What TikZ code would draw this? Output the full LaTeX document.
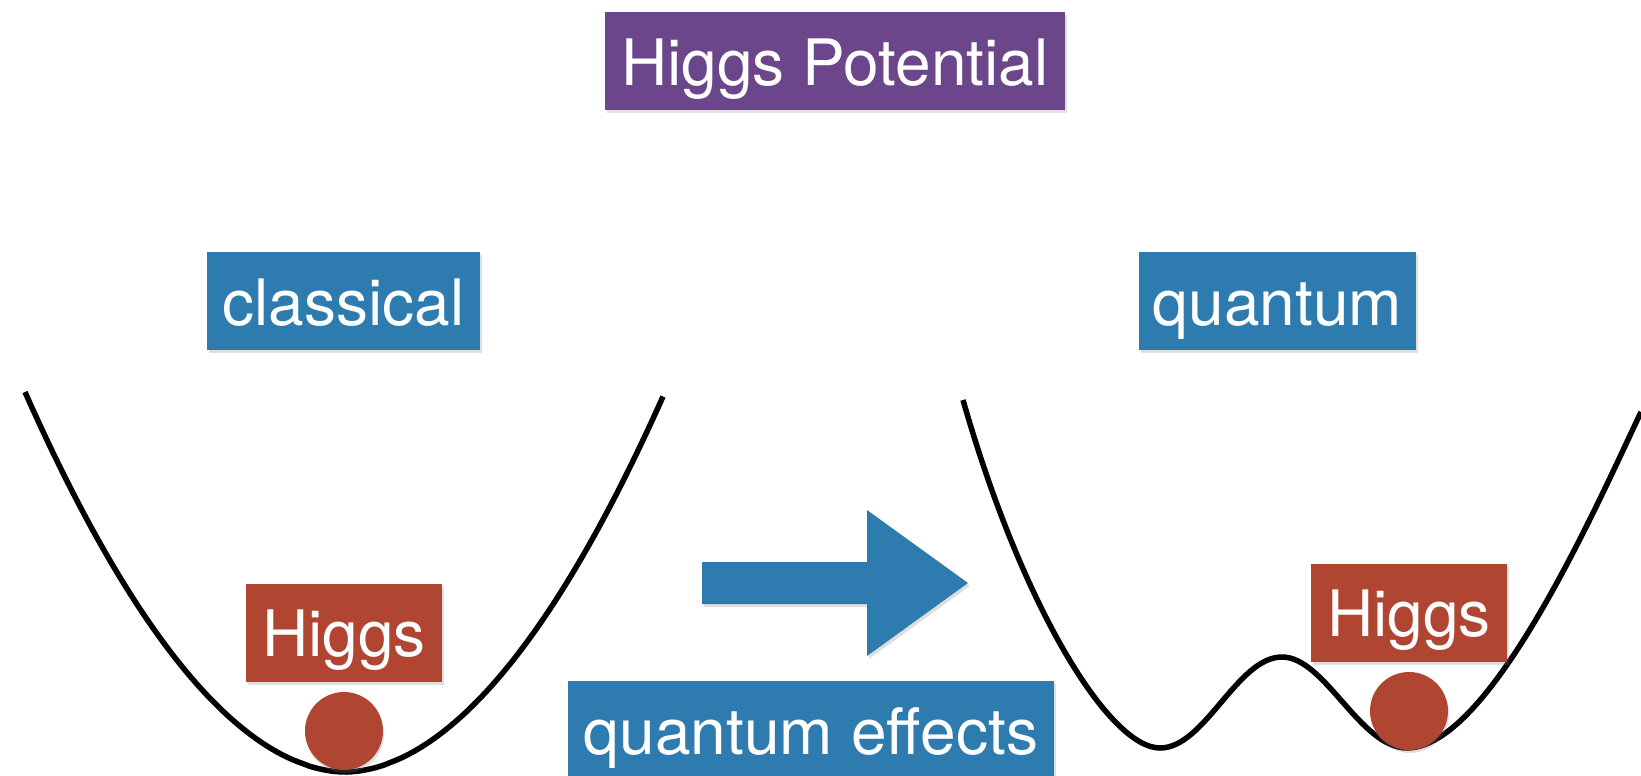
\documentclass[tikz,border=0pt]{standalone}
\usepackage{fontspec}
\setmainfont{TeX Gyre Heros}
\usetikzlibrary{positioning, shadows}
\definecolor{higgsblue}{HTML}{2E7CAF}
\definecolor{higgsred}{HTML}{B04532}
\definecolor{higgspurple}{HTML}{6C468A}
\tikzset{
  box/.style={
    rectangle,
    fill=higgsblue,
    text=white,
    inner xsep=0pt,
    inner ysep=0pt,
    text height=73pt,
    text depth=25pt,
    font=\fontsize{64}{77}\selectfont,
    drop shadow={shadow xshift=2pt, shadow yshift=-3pt, opacity=0.25}
  },
  titlebox/.style={
    box,
    fill=higgspurple
  },
  higgsbox/.style={
    box,
    fill=higgsred,
    minimum width=196pt
  },
  ball/.style={
    circle,
    fill=higgsred,
    minimum size=78pt,
    inner sep=0pt,
    drop shadow={shadow xshift=1pt, shadow yshift=-3pt, opacity=0.25}
  },
  well/.style={line width=5.5pt, black},
  bigarrow/.style={
    fill=higgsblue,
    drop shadow={shadow xshift=2pt, shadow yshift=-3pt, opacity=0.25}
  }
}

\begin{document}
\begin{tikzpicture}[x=1pt, y=-1pt]
\useasboundingbox (0,0) rectangle (1641,776);

\node[titlebox, minimum width=460pt, anchor=north] (title) at (835,12) {Higgs Potential};
\node[box, minimum width=273pt, anchor=north] (classical) at (343.5,252) {classical};
\node[box, minimum width=277pt, anchor=north] (quantum) at (1277.5,252) {quantum};
\node[box, minimum width=486pt, anchor=north] (effects) at (811,681) {quantum effects};

% classical potential
\draw[well] plot[domain=25:663, samples=120] (\x, {772-380*abs((\x-345)/320)^1.9});
% potential with quantum corrections
\draw[well] (963,400) .. controls (1023,610) and (1110,748) .. (1160,748)
  .. controls (1205,748) and (1237,657) .. (1282,657)
  .. controls (1325,657) and (1360,748) .. (1407,748)
  .. controls (1490,748) and (1596,507) .. (1641,412);

\fill[bigarrow] (702,562) -- (867,562) -- (867,510) -- (968,583)
  -- (867,656) -- (867,604) -- (702,604) -- cycle;

\node[ball] (ballL) at (344,731) {};
\node[ball] (ballR) at (1409,711) {};
\node[higgsbox, above=10pt of ballL] (higgsL) {Higgs};
\node[higgsbox, above=10pt of ballR] (higgsR) {Higgs};
\end{tikzpicture}
\end{document}
